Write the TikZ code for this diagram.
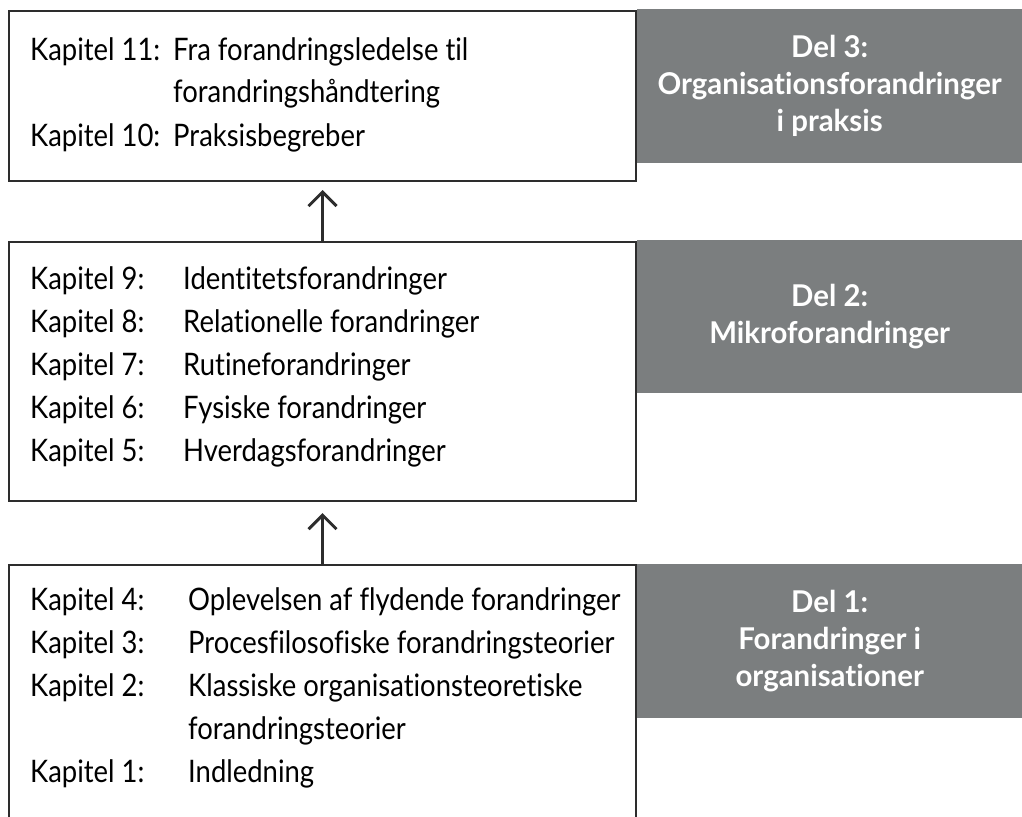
\documentclass[tikz,border=0pt]{standalone}
\usepackage{fontspec}
\setmainfont{Lato}[Ligatures=NoCommon, UprightFeatures={FakeStretch=0.885}, BoldFeatures={FakeStretch=0.98}]
\usepackage{array}
\usetikzlibrary{arrows.meta, positioning}
\definecolor{delgraa}{RGB}{123,126,127}
\definecolor{kantgraa}{RGB}{45,45,45}

\begin{document}
\begin{tikzpicture}[x=1pt, y=-1pt]
    % Define styles
    \tikzstyle{kapboks} = [rectangle, draw=kantgraa, line width=2pt, minimum width=627pt, anchor=north west, inner sep=0pt]
    \tikzstyle{delboks} = [rectangle, fill=delgraa, text=white, minimum width=385pt, anchor=north west, align=center, font=\fontsize{30}{37}\selectfont\bfseries]
    \tikzstyle{kaptekst} = [anchor=base west, inner sep=0pt, font=\fontsize{31}{43}\selectfont]
    \tikzstyle{pil} = [-{Straight Barb[length=14pt, width=28pt]}, line width=3pt, draw=kantgraa]

    % Page size
    \useasboundingbox (0,0) rectangle (1022,816);
    \clip (0,0) rectangle (1022,816);

    % Chapter boxes
    \node[kapboks, minimum height=170pt] (boks3) at (8,10) {};
    \node[kapboks, minimum height=259pt] (boks2) at (8,241) {};
    \node[kapboks, minimum height=280pt] (boks1) at (8,564) {};

    % Chapter lists
    \node[kaptekst] (tekst3) at (30,60) {\begin{tabular}[t]{@{}p{143pt}@{}l@{}}
        Kapitel 11: & Fra forandringsledelse til\\
        & forandringshåndtering\\
        Kapitel 10: & Praksisbegreber
    \end{tabular}};
    \node[kaptekst] (tekst2) at (30,289) {\begin{tabular}[t]{@{}p{153pt}@{}l@{}}
        Kapitel 9: & Identitetsforandringer\\
        Kapitel 8: & Relationelle forandringer\\
        Kapitel 7: & Rutineforandringer\\
        Kapitel 6: & Fysiske forandringer\\
        Kapitel 5: & Hverdagsforandringer
    \end{tabular}};
    \node[kaptekst] (tekst1) at (30,610) {\begin{tabular}[t]{@{}p{158pt}@{}l@{}}
        Kapitel 4: & Oplevelsen af flydende forandringer\\
        Kapitel 3: & Procesfilosofiske forandringsteorier\\
        Kapitel 2: & Klassiske organisationsteoretiske\\
        & forandringsteorier\\
        Kapitel 1: & Indledning
    \end{tabular}};

    % Part labels
    \node[delboks, minimum height=154pt] (del3) at (637,9) {Del 3:\\Organisationsforandringer\\i praksis};
    \node[delboks, minimum height=153pt] (del2) at (637,240) {Del 2:\\Mikroforandringer};
    \node[delboks, minimum height=154pt] (del1) at (637,564) {Del 1:\\Forandringer i\\organisationer};

    % Arrows
    \draw[pil, shorten >=8pt] (boks2.north) -- (boks3.south);
    \draw[pil, shorten >=11pt] (boks1.north) -- (boks2.south);
\end{tikzpicture}
\end{document}
